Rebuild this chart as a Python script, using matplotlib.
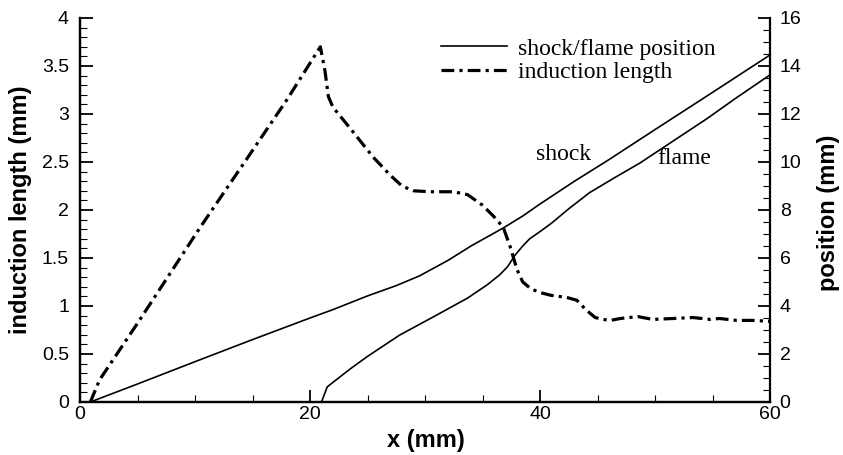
import matplotlib
matplotlib.use("Agg")
import matplotlib.pyplot as plt
from matplotlib.ticker import MultipleLocator
from matplotlib.lines import Line2D

# ---- data ----
ind_x = [0.9, 1.7, 5, 10.4, 15, 18, 20.9, 21.3, 21.6, 22.0, 23.5, 25.5, 27.0, 28.0,
         29.0, 30.5, 32.5, 33.7, 35.0, 36.0, 36.8, 37.4, 38.0, 38.5, 39.2, 40.0,
         41.0, 42.3, 43.2, 44.0, 44.8, 45.5, 46.1, 47.0, 48.5, 49.8, 51.6, 53.3,
         54.8, 55.6, 57.1, 58.5, 60]
ind_y = [0, 0.23, 0.82, 1.81, 2.62, 3.15, 3.70, 3.45, 3.18, 3.07, 2.85, 2.55, 2.36, 2.25,
         2.20, 2.19, 2.19, 2.16, 2.05, 1.93, 1.82, 1.62, 1.38, 1.25, 1.18, 1.14,
         1.11, 1.09, 1.06, 0.96, 0.88, 0.86, 0.85, 0.87, 0.89, 0.86, 0.87, 0.88,
         0.86, 0.87, 0.85, 0.85, 0.84]

shock_x = [0.9, 5, 10, 15, 20, 22, 25, 27.5, 29.5, 32, 34, 36.8, 38.5, 40, 43, 46, 50, 55, 60]
shock_y = [0, 0.75, 1.68, 2.6, 3.5, 3.85, 4.42, 4.85, 5.25, 5.9, 6.5, 7.25, 7.75, 8.25,
           9.2, 10.1, 11.35, 12.9, 14.46]

flame_x = [21.0, 21.5, 22.0, 23.5, 25, 27.8, 30.7, 33.7, 35.4, 36.5, 37.2, 37.8, 38.5,
           39.1, 40.0, 41.0, 42.5, 44.3, 46.5, 48.7, 51.5, 54.5, 57, 60]
flame_y = [0, 0.63, 0.82, 1.38, 1.9, 2.79, 3.54, 4.33, 4.88, 5.3, 5.65, 6.1, 6.5,
           6.8, 7.1, 7.45, 8.05, 8.72, 9.35, 9.96, 10.85, 11.8, 12.65, 13.63]

legend_labels = ["shock/flame position", "induction length"]

sans = ["Liberation Sans", "DejaVu Sans"]
serif = ["Liberation Serif", "DejaVu Serif"]

W, H = 843, 455
fig = plt.figure(figsize=(W/100, H/100), dpi=100)
ax = fig.add_axes([80/W, 1-402/H, 690/W, 384/H])
ax2 = ax.twinx()

dashdot = (0, (4, 1.6, 1, 1.6))
ax.plot(ind_x, ind_y, color="black", lw=2.3, linestyle=dashdot)
ax2.plot(shock_x, shock_y, color="black", lw=1.2)
ax2.plot(flame_x, flame_y, color="black", lw=1.2)

ax.set_xlim(0, 60)
ax.set_ylim(0, 4)
ax2.set_ylim(0, 16)

for a in (ax, ax2):
    a.spines["top"].set_visible(False)
    for s in a.spines.values():
        s.set_linewidth(1.6)
ax.spines["right"].set_visible(False)

ax.xaxis.set_major_locator(MultipleLocator(20))
ax.xaxis.set_minor_locator(MultipleLocator(5))
ax.yaxis.set_major_locator(MultipleLocator(0.5))
ax.yaxis.set_minor_locator(MultipleLocator(0.1))
ax2.yaxis.set_major_locator(MultipleLocator(2))
ax2.yaxis.set_minor_locator(MultipleLocator(0.5))

ax.tick_params(axis="x", which="major", direction="in", length=9, width=1.3,
               labelsize=14, pad=3)
ax.tick_params(axis="y", which="major", direction="in", length=9, width=1.3,
               labelsize=14, pad=8)
ax.tick_params(axis="both", which="minor", direction="in", length=5, width=0.8)
ax2.tick_params(axis="y", which="major", direction="in", length=9, width=1.3,
                labelsize=14, pad=7)
ax2.tick_params(axis="y", which="minor", direction="in", length=5, width=0.8)

ax.set_yticklabels([("%g" % v) for v in ax.get_yticks()])
ax2.set_yticklabels([("%g" % v) for v in ax2.get_yticks()])
ax.set_xticklabels([("%g" % v) for v in ax.get_xticks()])
for lab in ax.get_xticklabels() + ax.get_yticklabels() + ax2.get_yticklabels():
    lab.set_family(sans)

ax.set_xlabel("x (mm)", fontsize=17, fontweight="bold", family=sans)
ax.xaxis.set_label_coords((426-80)/690, (402-440)/384)
ax.xaxis.label.set_va("center")
ax.set_ylabel("induction length (mm)", fontsize=17, fontweight="bold", family=sans)
ax.yaxis.set_label_coords((21-80)/690, (402-210)/384)
ax.yaxis.label.set_va("center")
ax2.set_ylabel("position (mm)", fontsize=17, fontweight="bold", family=sans)
ax2.yaxis.set_label_coords((829-80)/690, (402-213)/384)
ax2.yaxis.label.set_va("center")

ax2.text((564-80)/690, (402-155)/384, "shock", transform=ax2.transAxes,
         fontsize=17, family=serif, ha="center", va="center")
ax2.text((684-80)/690, (402-159)/384, "flame", transform=ax2.transAxes,
         fontsize=17, family=serif, ha="center", va="center")

handles = [Line2D([], [], color="black", lw=1.2),
           Line2D([], [], color="black", lw=2.3, linestyle=dashdot)]
leg = fig.legend(handles, legend_labels, loc="upper left",
                 bbox_to_anchor=(441/W, 1-38/H), frameon=False,
                 prop={"family": serif, "size": 17}, handlelength=2.8,
                 handletextpad=0.45, labelspacing=0.08, borderpad=0, borderaxespad=0)

fig.savefig("out.png", dpi=100)
